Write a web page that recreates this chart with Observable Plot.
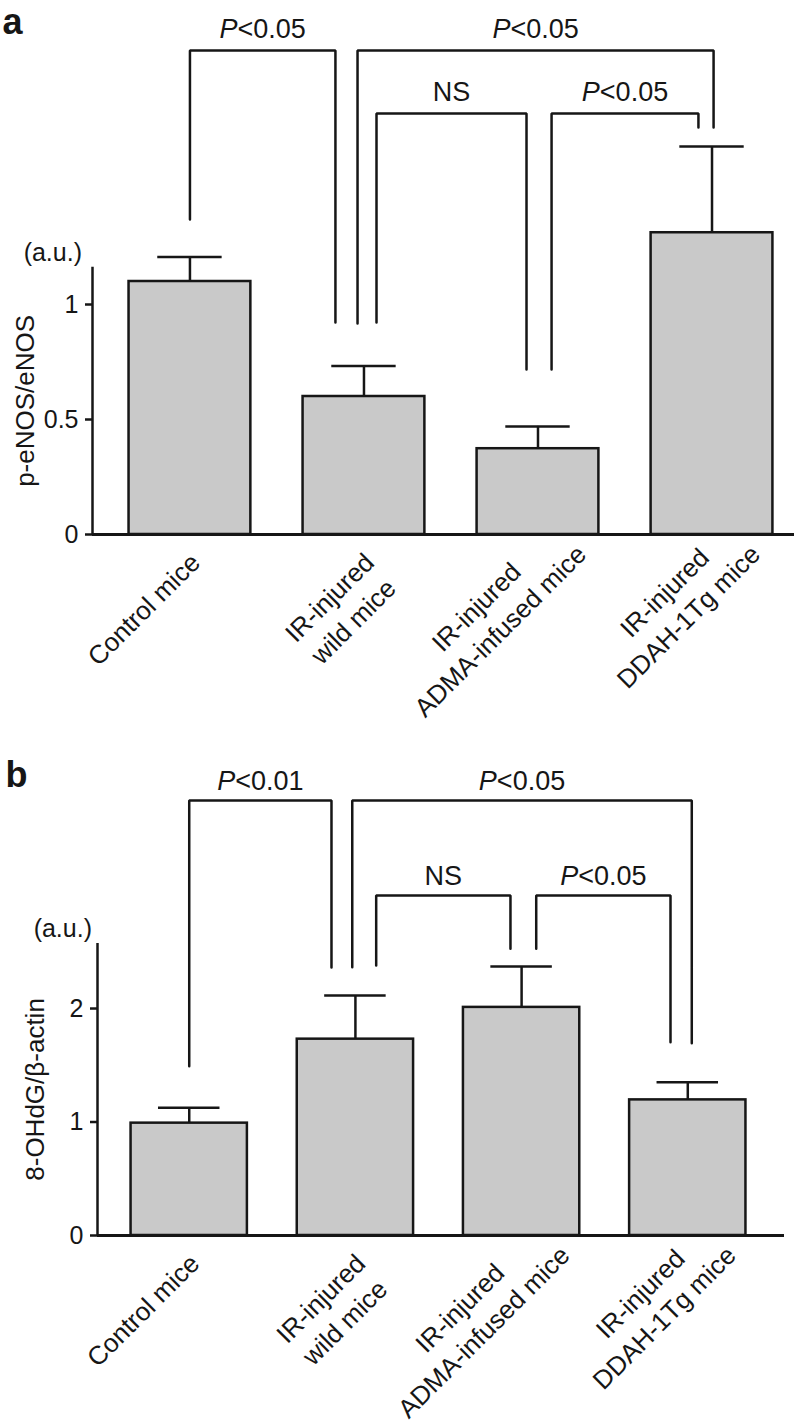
<!DOCTYPE html>
<html><head><meta charset="utf-8">
<script src="https://cdn.jsdelivr.net/npm/d3@7"></script>
<script src="https://cdn.jsdelivr.net/npm/@observablehq/plot@0.6"></script>
<style>
html,body{margin:0;padding:0;background:#fff;}
#wrap{width:794px;}
#wrap svg{display:block;}
</style></head><body><div id="wrap"></div>
<script>
// ---------- data ----------
const categories = ["Control mice", "IR-injured\nwild mice", "IR-injured\nADMA-infused mice", "IR-injured\nDDAH-1Tg mice"];

// panel a : p-eNOS/eNOS
const valuesA = [1.10, 0.60, 0.373, 1.312];
const errorsA = [0.107, 0.133, 0.097, 0.375];
const yTicksA = [0, 0.5, 1];
const axisTopA = 1.162;
const yTitleA = "p-eNOS/eNOS";
const bracketLabelsA = ["P<0.05", "P<0.05", "NS", "P<0.05"];
const bracketX1A = [0.0, 0.963, 1.072, 2.078];
const bracketX2A = [0.836, 3.009, 1.934, 2.922];
const bracketLevelA = [2.104, 2.104, 1.830, 1.830];
const bracketEnd1A = [1.370, 0.917, 0.922, 0.717];
const bracketEnd2A = [0.922, 1.770, 0.717, 1.770];

// panel b : 8-OHdG/beta-actin
const valuesB = [0.99, 1.73, 2.01, 1.195];
const errorsB = [0.135, 0.385, 0.36, 0.155];
const yTicksB = [0, 1, 2];
const axisTopB = 2.574;
const yTitleB = "8-OHdG/β-actin";
const bracketLabelsB = ["P<0.01", "P<0.05", "NS", "P<0.05"];
const bracketX1B = [0.0, 0.981, 1.125, 2.088];
const bracketX2B = [0.856, 3.024, 1.933, 2.896];
const bracketLevelB = [3.833, 3.833, 2.996, 2.996];
const bracketEnd1B = [1.492, 2.364, 2.379, 2.526];
const bracketEnd2B = [2.361, 1.694, 2.526, 1.703];

// ---------- drawing ----------
const FONT = "'Liberation Sans', Arial, Helvetica, sans-serif";
const INK = "#161616";
const ctx = document.createElement("canvas").getContext("2d");
const measure = (s, size, style = "normal") => { ctx.font = `${style} ${size}px ${FONT}`; return ctx.measureText(s).width; };

function panel(cfg) {
  const W = 794;
  const {height, mL, mR, mT, mB, xDomain, yDomain} = cfg;
  const kx = (W - mL - mR) / (xDomain[1] - xDomain[0]);
  const ky = (height - mT - mB) / (yDomain[1] - yDomain[0]);
  const LBL = 26, LH = 1.3, BF = 27;
  const c45 = Math.SQRT1_2;
  // where the end of a label's longest line sits, relative to bar centre / baseline (px)
  const endX = [4, 42], endY = [22, 14];
  const rows = categories.map((c, i) => ({i, label: c, value: cfg.values[i], err: cfg.errors[i]}));
  rows.forEach(r => {
    const lines = r.label.split("\n");
    const ws = lines.map(s => measure(s, LBL));
    const wMax = Math.max(...ws);
    const j = ws.indexOf(wMax);
    const n = lines.length;
    const s = (j - (n - 1) / 2) * LH * LBL * c45;
    r.px = endX[j] - c45 * wMax / 2 - s;
    r.py = endY[j] + c45 * wMax / 2 - s;
  });

  const brackets = cfg.bLabels.map((lab, k) => ({
    k, lab, x1: cfg.bX1[k], x2: cfg.bX2[k], level: cfg.bLevel[k],
    e1: cfg.bEnd1[k], e2: cfg.bEnd2[k], mid: (cfg.bX1[k] + cfg.bX2[k]) / 2
  }));
  const pts = brackets.flatMap(b => [
    {k: b.k, x: b.x1, y: b.e1}, {k: b.k, x: b.x1, y: b.level},
    {k: b.k, x: b.x2, y: b.level}, {k: b.k, x: b.x2, y: b.e2}
  ]);
  const pLab = brackets.filter(b => b.lab.startsWith("P"));
  const plain = brackets.filter(b => !b.lab.startsWith("P"));
  const wP = measure("P", BF, "italic");
  const wR = measure(pLab.length ? pLab[0].lab.slice(1) : "", BF);
  const dxP = -(wP + wR) / 2 + wP;

  return Plot.plot({
    width: W, height,
    marginLeft: mL, marginRight: mR, marginTop: mT, marginBottom: mB,
    x: {domain: xDomain, axis: null},
    y: {domain: yDomain},
    style: {fontFamily: FONT, color: INK, background: "white", overflow: "visible"},
    marks: [
      Plot.rect(rows, {x1: d => d.i - 0.35, x2: d => d.i + 0.35, y1: () => 0, y2: "value",
        fill: "#c9c9c9", stroke: INK, strokeWidth: 2.5}),
      Plot.ruleX(rows, {x: "i", y1: "value", y2: d => d.value + d.err, stroke: INK, strokeWidth: 2.5}),
      Plot.ruleY(rows, {y: d => d.value + d.err, x1: d => d.i - 0.185, x2: d => d.i + 0.185, stroke: INK, strokeWidth: 2.5}),
      Plot.ruleY([0], {stroke: INK, strokeWidth: 2.8}),
      Plot.ruleX([xDomain[0]], {y1: () => 0, y2: () => cfg.axisTop, stroke: INK, strokeWidth: 2.5}),
      Plot.axisY({ticks: cfg.yTicks, tickFormat: d => String(d), tickSize: 7, tickPadding: 7,
        fontSize: 25, stroke: INK, strokeWidth: 2.5, label: null}),
      Plot.text(rows, {
        x: d => d.i + d.px / kx,
        y: d => -d.py / ky,
        text: "label", rotate: -45, textAnchor: "middle", lineAnchor: "middle",
        lineHeight: LH, fontSize: LBL
      }),
      Plot.line(pts, {x: "x", y: "y", z: "k", stroke: INK, strokeWidth: 2.5, strokeLinejoin: "miter", curve: "linear"}),
      Plot.text(pLab, {x: "mid", y: "level", text: () => "P", fontStyle: "italic", textAnchor: "end",
        lineAnchor: "bottom", dx: dxP, dy: -cfg.labelGap, fontSize: BF}),
      Plot.text(pLab, {x: "mid", y: "level", text: d => d.lab.slice(1), textAnchor: "start",
        lineAnchor: "bottom", dx: dxP, dy: -cfg.labelGap, fontSize: BF}),
      Plot.text(plain, {x: "mid", y: "level", text: "lab", textAnchor: "middle",
        lineAnchor: "bottom", dy: -cfg.labelGap, fontSize: BF}),
      Plot.text([cfg.axisTop], {y: d => d, frameAnchor: "left", text: () => "(a.u.)", textAnchor: "end",
        lineAnchor: "bottom", dx: cfg.auDx, dy: -6.5, fontSize: 25}),
      Plot.text([cfg.axisTop / 2], {y: d => d, frameAnchor: "left", text: () => cfg.yTitle, rotate: -90,
        textAnchor: "middle", lineAnchor: "bottom", dx: cfg.titleDx, fontSize: 26}),
      Plot.text([cfg.letter], {frameAnchor: "top-left", text: d => d, fontWeight: "bold", fontSize: 36,
        textAnchor: "start", lineAnchor: "bottom", dx: cfg.letterDx, dy: cfg.letterDy})
    ]
  });
}

const wrap = document.getElementById("wrap");
wrap.append(panel({
  letter: "a", values: valuesA, errors: errorsA, yTicks: yTicksA, axisTop: axisTopA, yTitle: yTitleA,
  bLabels: bracketLabelsA, bX1: bracketX1A, bX2: bracketX2A, bLevel: bracketLevelA, bEnd1: bracketEnd1A, bEnd2: bracketEnd2A,
  height: 720, mL: 92, mR: 0, mT: 28, mB: 186, xDomain: [-0.56, 3.474], yDomain: [0, 2.2],
  labelGap: 13, auDx: -10.5, titleDx: -59, letterDx: -90, letterDy: 5
}));
wrap.append(panel({
  letter: "b", values: valuesB, errors: errorsB, yTicks: yTicksB, axisTop: axisTopB, yTitle: yTitleB,
  bLabels: bracketLabelsB, bX1: bracketX1B, bX2: bracketX2B, bLevel: bracketLevelB, bEnd1: bracketEnd1B, bEnd2: bracketEnd2B,
  height: 705, mL: 97, mR: 10, mT: 27, mB: 190, xDomain: [-0.552, 3.582], yDomain: [0, 4.3],
  labelGap: 10, auDx: -5.5, titleDx: -54, letterDx: -92, letterDy: 39
}));
</script></body></html>
